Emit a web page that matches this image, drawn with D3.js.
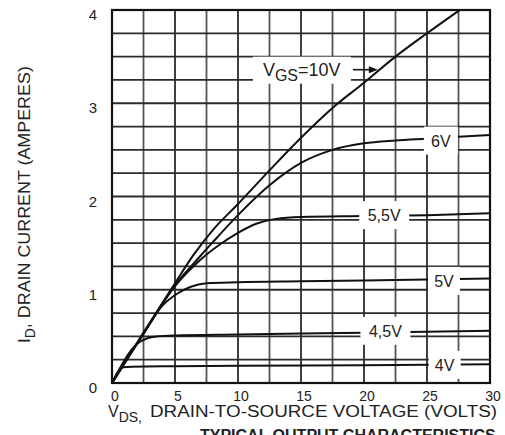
<!DOCTYPE html>
<html>
<head>
<meta charset="utf-8">
<script src="https://cdn.jsdelivr.net/npm/d3@7/dist/d3.min.js"></script>
<style>
  html, body { margin: 0; padding: 0; background: #fff; }
  svg { display: block; font-family: 'Liberation Sans', Arial, sans-serif; }
  .grid line { stroke: #2b2b2b; stroke-width: 1.8; }
  .curve { fill: none; stroke: #111; stroke-width: 2; }
  .tick-label { font-size: 15px; fill: #222; }
  .curve-label { font-size: 16px; fill: #222; }
  .axis-title { font-size: 16px; fill: #222; }
</style>
</head>
<body>
<div id="chart"></div>
<script>
(function () {
  // axis ticks and grid
  var xTicks = [0, 5, 10, 15, 20, 25, 30];
  var yTicks = [0, 1, 2, 3, 4];
  var xGrid = [0, 2.5, 5, 7.5, 10, 12.5, 15, 17.5, 20, 22.5, 25, 27.5, 30];
  var yGrid = [0, 0.25, 0.5, 0.75, 1, 1.25, 1.5, 1.75, 2, 2.25, 2.5, 2.75, 3, 3.25, 3.5, 3.75, 4];

  // VDS (volts) / ID (amperes), one array per VGS
  var vgs10 = [[0, 0], [2.5, 0.54], [5, 1.07], [6.4, 1.36], [8, 1.64], [10, 1.92], [12.5, 2.28], [15, 2.63], [17.5, 2.95], [20, 3.22], [22.5, 3.5], [25, 3.75], [27.6, 4.0]];
  var vgs6 = [[0, 0], [2.5, 0.53], [5, 1.05], [6.8, 1.33], [8, 1.51], [10, 1.8], [12.5, 2.12], [15, 2.36], [17.5, 2.5], [20, 2.57], [22.5, 2.6], [25, 2.62], [30, 2.66]];
  var vgs55 = [[0, 0], [2.5, 0.53], [5, 1.04], [7, 1.32], [8.5, 1.48], [10, 1.61], [11.5, 1.71], [13, 1.76], [15, 1.78], [20, 1.79], [25, 1.8], [30, 1.82]];
  var vgs5 = [[0, 0], [2.5, 0.53], [4, 0.83], [5.2, 0.96], [6.2, 1.03], [7.5, 1.07], [10, 1.08], [15, 1.09], [20, 1.1], [25, 1.11], [30, 1.12]];
  var vgs45 = [[0, 0], [2, 0.42], [2.8, 0.48], [3.6, 0.5], [5, 0.51], [10, 0.52], [15, 0.53], [20, 0.54], [25, 0.55], [30, 0.56]];
  var vgs4 = [[0, 0], [0.9, 0.17], [1.6, 0.175], [5, 0.18], [10, 0.185], [20, 0.19], [30, 0.2]];

  // curve labels: text, VDS, ID, box width
  var curveLabels = [
    { text: '6V', v: 26.1, i: 2.6, w: 34 },
    { text: '5,5V', v: 21.6, i: 1.8, w: 50 },
    { text: '5V', v: 26.35, i: 1.095, w: 32 },
    { text: '4,5V', v: 21.7, i: 0.56, w: 50 },
    { text: '4V', v: 26.4, i: 0.195, w: 32 }
  ];

  var width = 505;
  var height = 435;
  var plot = { left: 112, right: 490, top: 10, bottom: 383 };

  var svg = d3.select('#chart').append('svg')
    .attr('width', width)
    .attr('height', height);

  var x = d3.scaleLinear().domain([0, 30]).range([plot.left, plot.right]);
  var y = d3.scaleLinear().domain([0, 4]).range([plot.bottom, plot.top]);

  var grid = svg.append('g').attr('class', 'grid');
  grid.selectAll('line.v').data(xGrid).enter().append('line')
    .attr('class', 'v')
    .attr('x1', function (d) { return x(d); })
    .attr('x2', function (d) { return x(d); })
    .attr('y1', y(0))
    .attr('y2', y(4))
    .style('stroke', function (d, k) { return k % 2 ? '#555' : '#2b2b2b'; });
  grid.selectAll('line.h').data(yGrid).enter().append('line')
    .attr('class', 'h')
    .attr('x1', x(0))
    .attr('x2', x(30))
    .attr('y1', function (d) { return y(d); })
    .attr('y2', function (d) { return y(d); });

  var line = d3.line()
    .x(function (d) { return x(d[0]); })
    .y(function (d) { return y(d[1]); })
    .curve(d3.curveMonotoneX);

  [vgs4, vgs45, vgs5, vgs55, vgs6, vgs10].forEach(function (s) {
    svg.append('path').attr('class', 'curve').attr('d', line(s));
  });

  // frame
  svg.append('rect')
    .attr('x', x(0)).attr('y', y(4))
    .attr('width', x(30) - x(0)).attr('height', y(0) - y(4))
    .attr('fill', 'none').attr('stroke', '#111').attr('stroke-width', 2.2);

  // curve labels with white knock-out boxes
  curveLabels.forEach(function (d) {
    var cx = x(d.v), cy = y(d.i);
    svg.append('rect')
      .attr('x', cx - d.w / 2).attr('y', cy - 14)
      .attr('width', d.w).attr('height', 28)
      .attr('fill', '#fff');
    svg.append('text')
      .attr('class', 'curve-label')
      .attr('x', cx).attr('y', cy + 6)
      .attr('text-anchor', 'middle')
      .text(d.text);
  });

  // VGS = 10V label with arrow
  var lx = x(11.5), ly = y(3.36);
  svg.append('rect')
    .attr('x', lx - 4).attr('y', ly - 13)
    .attr('width', 98).attr('height', 27)
    .attr('fill', '#fff');
  var t10 = svg.append('text').attr('class', 'curve-label')
    .attr('x', lx + 6).attr('y', ly + 6).style('font-size', '18px');
  t10.append('tspan').text('V');
  t10.append('tspan').attr('dy', 5).style('font-size', '16px').text('GS');
  t10.append('tspan').attr('dy', -5).text('=10V');
  svg.append('line')
    .attr('x1', lx + 96).attr('x2', x(20.6))
    .attr('y1', ly).attr('y2', ly)
    .attr('stroke', '#111').attr('stroke-width', 1.6);
  var ax = x(21.1);
  svg.append('path')
    .attr('d', 'M' + ax + ',' + ly + 'L' + (ax - 9) + ',' + (ly - 3.5) + 'L' + (ax - 9) + ',' + (ly + 3.5) + 'Z')
    .attr('fill', '#111');

  // tick labels
  svg.selectAll('text.ytick').data(yTicks).enter().append('text')
    .attr('class', 'tick-label ytick')
    .attr('x', plot.left - 15)
    .attr('y', function (d) { return y(d) + 10; })
    .attr('text-anchor', 'end')
    .text(function (d) { return d; });
  svg.selectAll('text.xtick').data(xTicks).enter().append('text')
    .attr('class', 'tick-label xtick')
    .attr('x', function (d) { return x(d) + 3; })
    .attr('y', 401)
    .attr('text-anchor', 'middle')
    .style('font-size', '14px')
    .text(function (d) { return d; });

  // x title
  var xt = svg.append('text').attr('class', 'axis-title').attr('x', 108).attr('y', 417);
  xt.append('tspan').text('V');
  xt.append('tspan').attr('dy', 5).style('font-size', '14px').text('DS,');
  xt.append('tspan').attr('dy', -5).attr('x', 150)
    .attr('textLength', 347).attr('lengthAdjust', 'spacingAndGlyphs')
    .text('DRAIN-TO-SOURCE VOLTAGE (VOLTS)');

  // y title
  var yt = svg.append('text').attr('class', 'axis-title')
    .attr('transform', 'translate(30,343) rotate(-90)')
    .style('font-size', '17px');
  yt.append('tspan').text('I');
  yt.append('tspan').attr('dy', 5).style('font-size', '14px').text('D');
  yt.append('tspan').attr('dy', -5)
    .attr('textLength', 262).attr('lengthAdjust', 'spacingAndGlyphs')
    .text(', DRAIN CURRENT (AMPERES)');

  // caption, cut by the page edge as in the scan
  svg.append('text')
    .attr('x', 200).attr('y', 441)
    .style('font-size', '16px').style('font-weight', 'bold').style('fill', '#222')
    .text('TYPICAL OUTPUT CHARACTERISTICS');
})();
</script>
</body>
</html>
